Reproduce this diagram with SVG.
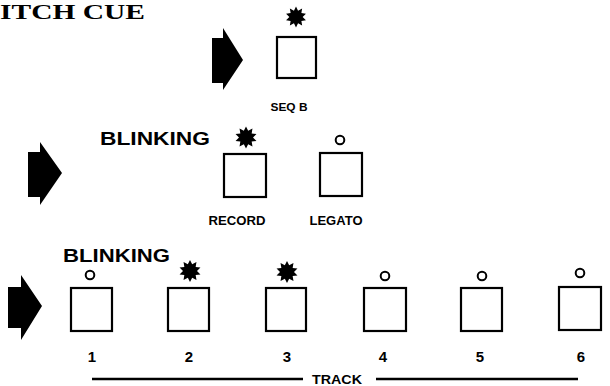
<svg xmlns="http://www.w3.org/2000/svg" width="610" height="386" viewBox="0 0 610 386">
<style>
.btn{fill:#fff;stroke:#000;stroke-width:2.2}
.led{fill:#fff;stroke:#000;stroke-width:2}
.arrow{fill:#000}
.lbl{font-family:"Liberation Sans",Arial,sans-serif;font-weight:bold;fill:#000}
.title{font-family:"Liberation Serif","Times New Roman",serif;font-weight:bold;fill:#000}
.line{stroke:#000;stroke-width:2.5;fill:none}
</style>
<defs>
<path id="star" d="M0,-11 L2.16,-6.66 L6.47,-8.9 L5.66,-4.12 L10.46,-3.4 L7,0 L10.46,3.4 L5.66,4.12 L6.47,8.9 L2.16,6.66 L0,11 L-2.16,6.66 L-6.47,8.9 L-5.66,4.12 L-10.46,3.4 L-7,0 L-10.46,-3.4 L-5.66,-4.12 L-6.47,-8.9 L-2.16,-6.66 Z" fill="#000"/>
</defs>
<text class="title" x="0" y="19" font-size="22" textLength="145" lengthAdjust="spacingAndGlyphs">ITCH CUE</text>

<g id="step1">
<polygon class="arrow" points="212,38 223,38 223,28 243,60 223,90 223,83 212,83"/>
<g id="seqb">
<use href="#star" transform="translate(296,17) scale(0.95)"/>
<rect class="btn" x="277" y="37" width="39" height="41"/>
<text class="lbl" x="289" y="111" font-size="10" text-anchor="middle" textLength="37" lengthAdjust="spacingAndGlyphs">SEQ B</text>
</g>
</g>

<g id="step2">
<polygon class="arrow" points="28,152 40,152 40,142 62,173 40,205 40,197 28,197"/>
<text class="lbl" x="100" y="145" font-size="19" textLength="110" lengthAdjust="spacingAndGlyphs">BLINKING</text>
<g id="record">
<use href="#star" transform="translate(246,137.5)"/>
<rect class="btn" x="224" y="154" width="42" height="43"/>
<text class="lbl" x="237" y="225" font-size="12" text-anchor="middle" textLength="57" lengthAdjust="spacingAndGlyphs">RECORD</text>
</g>
<g id="legato">
<circle class="led" cx="340" cy="140" r="4.3"/>
<rect class="btn" x="320" y="153" width="42" height="43"/>
<text class="lbl" x="336" y="225" font-size="12" text-anchor="middle" textLength="53" lengthAdjust="spacingAndGlyphs">LEGATO</text>
</g>
</g>

<g id="step3">
<polygon class="arrow" points="8,287 21,287 21,275 42,306 21,340 21,328 8,328"/>
<text class="lbl" x="63" y="262" font-size="19" textLength="107" lengthAdjust="spacingAndGlyphs">BLINKING</text>
<g id="track1">
<circle class="led" cx="90" cy="275" r="4.3"/>
<rect class="btn" x="71" y="288" width="41" height="43"/>
<text class="lbl" x="92" y="362" font-size="15" text-anchor="middle">1</text>
</g>
<g id="track2">
<use href="#star" transform="translate(190,271)"/>
<rect class="btn" x="168" y="288" width="41" height="43"/>
<text class="lbl" x="189" y="362" font-size="15" text-anchor="middle">2</text>
</g>
<g id="track3">
<use href="#star" transform="translate(287,272)"/>
<rect class="btn" x="266" y="288" width="40" height="43"/>
<text class="lbl" x="287" y="362" font-size="15" text-anchor="middle">3</text>
</g>
<g id="track4">
<circle class="led" cx="385" cy="276" r="4.3"/>
<rect class="btn" x="364" y="288" width="42" height="43"/>
<text class="lbl" x="383" y="362" font-size="15" text-anchor="middle">4</text>
</g>
<g id="track5">
<circle class="led" cx="482" cy="276" r="4.3"/>
<rect class="btn" x="461" y="288" width="41" height="43"/>
<text class="lbl" x="480" y="362" font-size="15" text-anchor="middle">5</text>
</g>
<g id="track6">
<circle class="led" cx="580" cy="273" r="4.3"/>
<rect class="btn" x="559" y="287" width="42" height="43"/>
<text class="lbl" x="581" y="362" font-size="15" text-anchor="middle">6</text>
</g>
</g>

<g id="connectors">
<line class="line" x1="92" y1="379" x2="303" y2="379"/>
<line class="line" x1="376" y1="379" x2="578" y2="379"/>
</g>
<text class="lbl" x="312" y="384" font-size="13" textLength="50" lengthAdjust="spacingAndGlyphs">TRACK</text>
</svg>
